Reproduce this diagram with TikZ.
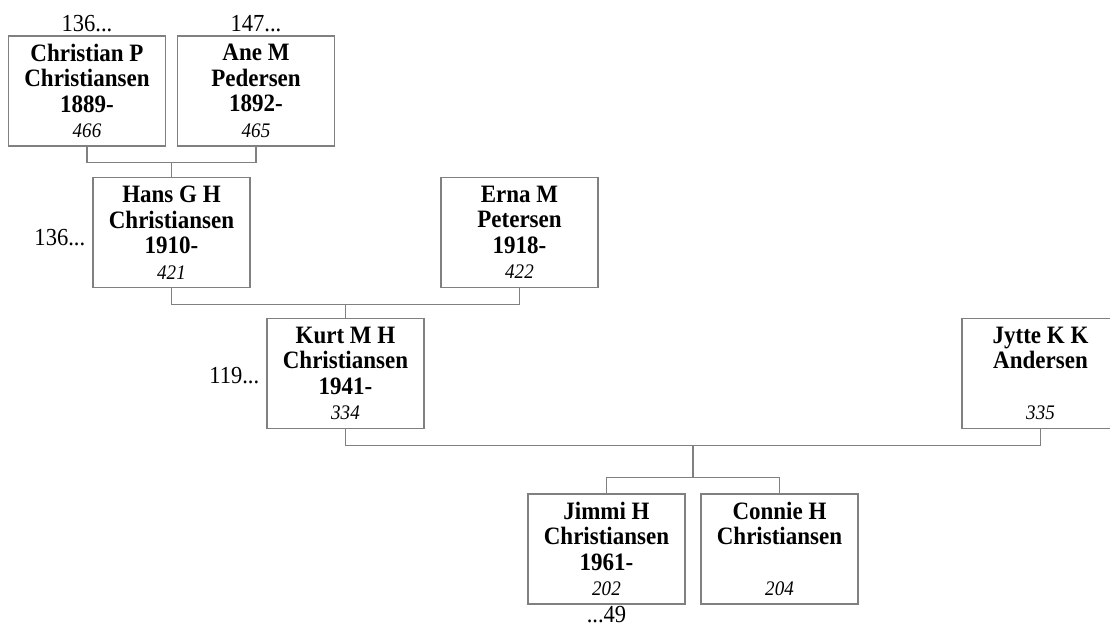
\documentclass[tikz,border=0pt]{standalone}
\usepackage{fontspec}
\setmainfont{Liberation Serif}[FakeStretch=0.92]
\usetikzlibrary{calc}
\definecolor{linegray}{RGB}{128,128,128}
\tikzset{
  person/.style={draw=linegray, line width=1.2pt, fill=white,
    minimum width=157pt, minimum height=110pt, inner sep=0pt,
    align=center, font=\fontsize{25}{25.5}\selectfont\bfseries},
  conn/.style={draw=linegray, line width=1.2pt},
  ref/.style={font=\fontsize{24.5}{26}\selectfont, inner sep=0pt},
}
\newcommand{\idn}[1]{{\fontsize{20.7}{25.5}\selectfont\mdseries\itshape #1}}
\begin{document}
\begin{tikzpicture}[x=1pt, y=-1pt]
\useasboundingbox (0,0) rectangle (1110,627);
% persons
\node[person] (c1) at (87,91) {Christian P\\Christiansen\\1889-\\\idn{466}};
\node[person] (c2) at (256,91) {Ane M\\Pedersen\\1892-\\\idn{465}};
\node[person] (hans) at (171.5,232.5) {Hans G H\\Christiansen\\1910-\\\idn{421}};
\node[person] (erna) at (519.5,232.5) {Erna M\\Petersen\\1918-\\\idn{422}};
\node[person] (kurt) at (345.5,373.5) {Kurt M H\\Christiansen\\1941-\\\idn{334}};
\node[person] (jytte) at (1040.5,373.5) {Jytte K K\\Andersen\\[25.5pt]\idn{335}};
\node[person] (jimmi) at (606.5,549) {Jimmi H\\Christiansen\\1961-\\\idn{202}};
\node[person] (connie) at (779.5,549) {Connie H\\Christiansen\\[25.5pt]\idn{204}};
% connectors
\coordinate (m1) at ($(c1.south)!0.5!(c2.south)+(0,16)$);
\draw[conn] (c1.south) |- (m1) -| (c2.south);
\draw[conn] (m1) -- (m1 |- hans.north);
\coordinate (m2) at ($(hans.south)!0.5!(erna.south)+(0,16)$);
\draw[conn] (hans.south) |- (m2) -| (erna.south);
\draw[conn] (m2) -- (m2 |- kurt.north);
\coordinate (m3) at ($(kurt.south)!0.5!(jytte.south)+(0,16)$);
\draw[conn] (kurt.south) |- (m3) -| (jytte.south);
\coordinate (k3) at ($(jimmi.north)!0.5!(connie.north)+(0,-16)$);
\draw[conn] (m3) -- (m3 |- k3);
\draw[conn] (jimmi.north) |- (k3) -| (connie.north);
% reference labels
\node[ref, anchor=base] (r1) at ([yshift=4pt]c1.north) {136...};
\node[ref, anchor=base] (r2) at ([yshift=4pt]c2.north) {147...};
\node[ref, anchor=base east] (r3) at ([xshift=-7pt,yshift=-12.5pt]hans.west) {136...};
\node[ref, anchor=base east] (r4) at ([xshift=-7pt,yshift=-9.5pt]kurt.west) {119...};
\node[ref, anchor=base] (r5) at ([yshift=-18pt]jimmi.south) {...49};
\end{tikzpicture}
\end{document}
